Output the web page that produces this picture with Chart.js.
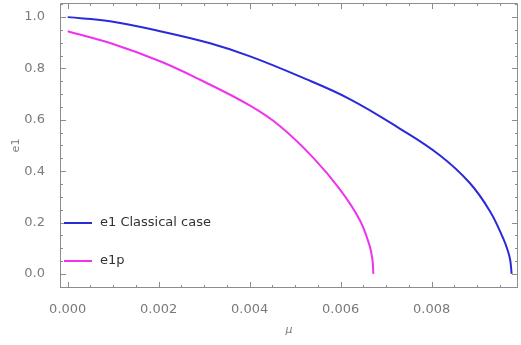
<!DOCTYPE html>
<html>
<head>
<meta charset="utf-8">
<script src="https://cdn.jsdelivr.net/npm/chart.js@4.4.0/dist/chart.umd.min.js"></script>
<style>
  html, body { margin: 0; padding: 0; background: #fff; }
  #wrap { width: 521px; height: 345px; }
</style>
</head>
<body>
<div id="wrap"><canvas id="chart"></canvas></div>
<script>
// values
const muClassical = [0, 0.00093, 0.00203, 0.00313, 0.00401, 0.0051, 0.0062, 0.0073, 0.00818, 0.00884, 0.00928, 0.00957, 0.00968, 0.00973, 0.00976];
const e1Classical = [1.0, 0.984, 0.945, 0.898, 0.847, 0.769, 0.681, 0.566, 0.462, 0.354, 0.245, 0.14, 0.088, 0.052, 0.0];

const muP = [0, 0.00093, 0.00203, 0.00291, 0.00401, 0.00467, 0.0054, 0.00598, 0.00642, 0.00664, 0.0067, 0.00672];
const e1P = [0.945, 0.899, 0.828, 0.756, 0.655, 0.575, 0.452, 0.33, 0.21, 0.108, 0.054, 0.0];

const seriesLabels = ['e1 Classical case', 'e1p'];
const seriesColors = ['#2a2ad8', '#ee33ee'];

// axis ticks
const xTickValues = [0, 0.002, 0.004, 0.006, 0.008];
const yTickValues = [0, 0.2, 0.4, 0.6, 0.8, 1.0];
const xMinorStep = 0.0005;
const yMinorStep = 0.05;

const FONT = '"DejaVu Sans", Verdana, sans-serif';
const GRAY = '#7a7a7a';

function toPoints(xs, ys) {
    return xs.map((v, i) => ({ x: v, y: ys[i] }));
}

// frame with inward ticks on all four sides, plus the legend inside the plot
const plotDecor = {
    id: 'plotDecor',
    afterDraw(chart, args, opts) {
        const ctx = chart.ctx;
        const a = chart.chartArea;
        const x = chart.scales.x;
        const y = chart.scales.y;

        ctx.save();
        ctx.strokeStyle = '#8c8c8c';
        ctx.lineWidth = 1;
        ctx.beginPath();
        ctx.rect(Math.round(a.left) + 0.5, Math.round(a.top) + 0.5,
                 Math.round(a.right - a.left) - 1, Math.round(a.bottom - a.top) - 1);

        for (let i = 0; i * xMinorStep <= x.max; i++) {
            const px = Math.round(x.getPixelForValue(i * xMinorStep)) + 0.5;
            const len = i % 4 === 0 ? 6 : 3;
            ctx.moveTo(px, a.bottom);
            ctx.lineTo(px, a.bottom - len);
            ctx.moveTo(px, a.top);
            ctx.lineTo(px, a.top + len);
        }
        for (let i = Math.ceil(y.min / yMinorStep); i * yMinorStep <= y.max; i++) {
            const py = Math.round(y.getPixelForValue(i * yMinorStep)) + 0.5;
            const len = i % 4 === 0 ? 6 : 3;
            ctx.moveTo(a.left, py);
            ctx.lineTo(a.left + len, py);
            ctx.moveTo(a.right, py);
            ctx.lineTo(a.right - len, py);
        }
        ctx.stroke();

        // legend, bottom left inside the frame
        ctx.font = '13px ' + FONT;
        ctx.textBaseline = 'middle';
        chart.data.datasets.forEach((ds, i) => {
            const yy = a.bottom - opts.offsets[i];
            ctx.strokeStyle = ds.borderColor;
            ctx.lineWidth = 2;
            ctx.beginPath();
            ctx.moveTo(a.left + 4, yy);
            ctx.lineTo(a.left + 32, yy);
            ctx.stroke();
            ctx.fillStyle = '#333';
            ctx.fillText(ds.label, a.left + 40, yy);
        });
        ctx.restore();
    }
};

new Chart(document.getElementById('chart'), {
    type: 'scatter',
    data: {
        datasets: [
            {
                label: seriesLabels[0],
                data: toPoints(muClassical, e1Classical),
                borderColor: seriesColors[0],
                backgroundColor: seriesColors[0],
                borderWidth: 2,
                showLine: true,
                pointRadius: 0,
                tension: 0.4
            },
            {
                label: seriesLabels[1],
                data: toPoints(muP, e1P),
                borderColor: seriesColors[1],
                backgroundColor: seriesColors[1],
                borderWidth: 2,
                showLine: true,
                pointRadius: 0,
                tension: 0.4
            }
        ]
    },
    options: {
        responsive: true,
        maintainAspectRatio: false,
        animation: false,
        layout: { padding: { top: 3, right: 3, left: 0, bottom: 0 } },
        plugins: {
            legend: { display: false },
            tooltip: { enabled: false },
            plotDecor: { offsets: [65, 27] }
        },
        scales: {
            x: {
                type: 'linear',
                min: -0.00017,
                max: 0.0099,
                grid: { display: false },
                border: { display: false },
                afterBuildTicks: scale => { scale.ticks = xTickValues.map(v => ({ value: v })); },
                afterFit: scale => {
                    scale.height = 57;
                    scale.paddingLeft = 0;
                    scale.paddingRight = 0;
                },
                ticks: {
                    padding: 6,
                    color: GRAY,
                    font: { family: FONT, size: 13 },
                    callback: v => v.toFixed(3)
                },
                title: {
                    display: true,
                    text: 'μ',
                    color: GRAY,
                    font: { family: FONT, size: 11, style: 'italic' },
                    padding: { top: 0, bottom: 8 }
                }
            },
            y: {
                type: 'linear',
                min: -0.055,
                max: 1.055,
                grid: { display: false },
                border: { display: false },
                afterBuildTicks: scale => { scale.ticks = yTickValues.map(v => ({ value: v })); },
                afterFit: scale => {
                    scale.width = 60;
                    scale.paddingTop = 0;
                    scale.paddingBottom = 0;
                },
                ticks: {
                    padding: 7,
                    color: GRAY,
                    font: { family: FONT, size: 13 },
                    callback: v => v.toFixed(1)
                },
                title: {
                    display: true,
                    text: 'e1',
                    color: GRAY,
                    font: { family: FONT, size: 11 },
                    padding: { top: 10, bottom: 0 }
                }
            }
        }
    },
    plugins: [plotDecor]
});
</script>
</body>
</html>
